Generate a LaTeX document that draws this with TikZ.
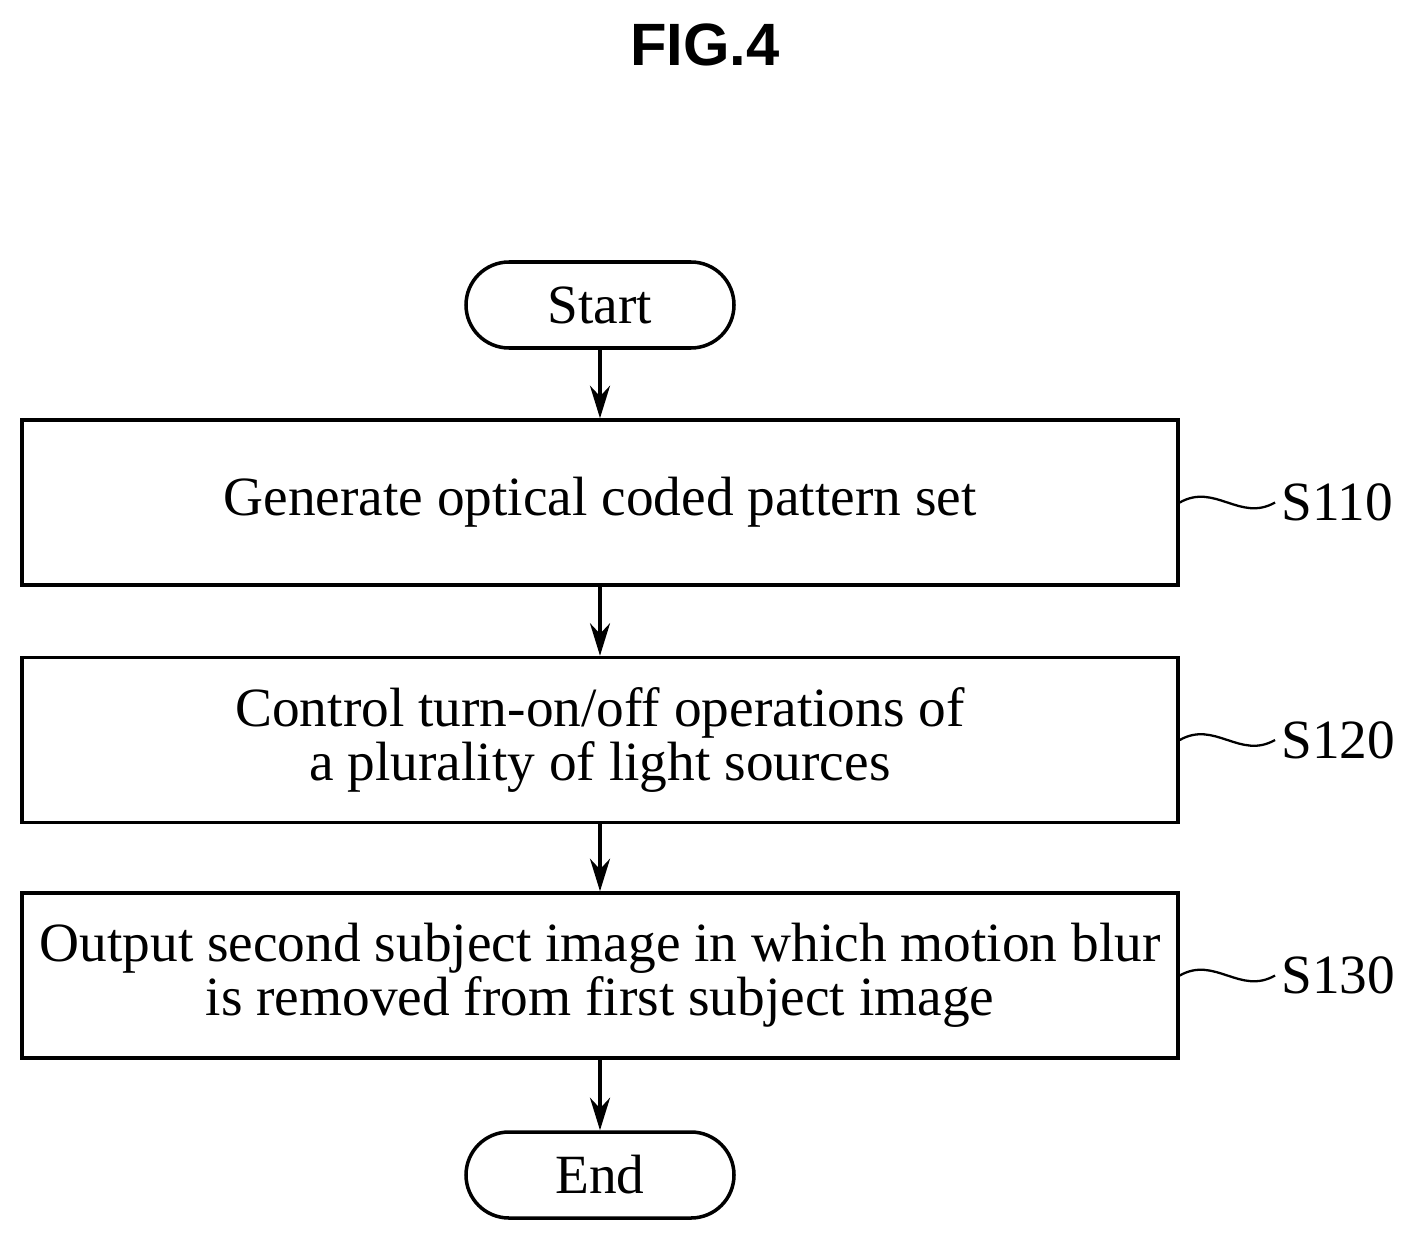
\documentclass[tikz,border=0pt]{standalone}
\usepackage{fontspec}
\setmainfont{Liberation Serif}
\newfontfamily\figfont{Liberation Sans}
\usetikzlibrary{arrows.meta,positioning}
\tikzset{
  stepbox/.style={draw, line width=2pt, minimum width=23.12cm, minimum height=3.3cm, align=center, font=\fontsize{31.5}{31}\selectfont},
  term/.style={draw, line width=2pt, rounded corners=0.86cm, minimum width=5.36cm, minimum height=1.72cm, font=\fontsize{31.5}{31}\selectfont},
  flow/.style={line width=2pt, -{Stealth[length=0.65cm,width=0.4cm]}},
  tag/.style={font=\fontsize{31.5}{31}\selectfont, anchor=west},
  wave/.style={line width=1.3pt}
}
\begin{document}
\begin{tikzpicture}
    \useasboundingbox (0,0) rectangle (28.3,-24.86);

    \node[font=\figfont\bfseries\fontsize{34}{36}\selectfont] (fig) at (14.1,-0.9) {FIG.4};

    \node[term] (start) at (12,-6.1) {Start};
    \node[stepbox] (s110) at (12,-10.05) {Generate optical coded pattern set};
    \node[stepbox] (s120) at (12,-14.8) {Control turn-on/off operations of\\a plurality of light sources};
    \node[stepbox] (s130) at (12,-19.51) {Output second subject image in which motion blur\\is removed from first subject image};
    \node[term] (end) at (12,-23.5) {End};

    \draw[flow] (start) -- (s110);
    \draw[flow] (s110) -- (s120);
    \draw[flow] (s120) -- (s130);
    \draw[flow] (s130) -- (end);

    % step labels
    \node[tag] (l110) at (25.5,-10.05) {S110};
    \node[tag] (l120) at (25.5,-14.8) {S120};
    \node[tag] (l130) at (25.5,-19.51) {S130};

    \draw[wave] (s110.east) .. controls +(0.7,0.4) and +(-0.7,-0.4) .. (l110.west);
    \draw[wave] (s120.east) .. controls +(0.7,0.4) and +(-0.7,-0.4) .. (l120.west);
    \draw[wave] (s130.east) .. controls +(0.7,0.4) and +(-0.7,-0.4) .. (l130.west);

\end{tikzpicture}
\end{document}
